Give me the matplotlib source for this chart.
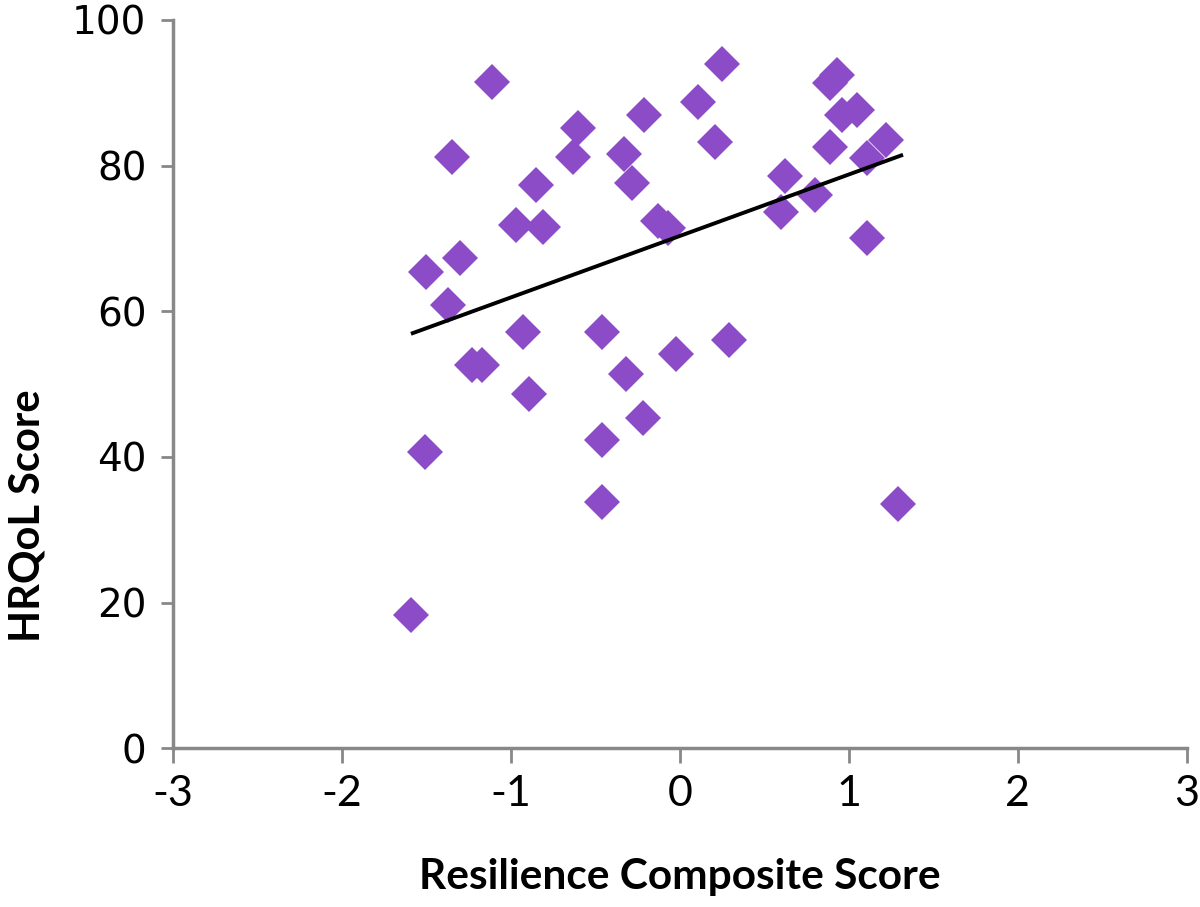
import matplotlib
matplotlib.use("Agg")
import matplotlib.pyplot as plt
import numpy as np

# Data
resilience = [-1.59, -1.51, -1.50, -1.37, -1.35, -1.30, -1.23, -1.17, -1.11,
              -0.97, -0.93, -0.89, -0.85, -0.81, -0.63, -0.60, -0.46, -0.46,
              -0.46, -0.33, -0.32, -0.28, -0.22, -0.21, -0.13, -0.07, -0.02,
              0.11, 0.21, 0.25, 0.29, 0.60, 0.62, 0.80, 0.89, 0.89, 0.93,
              0.96, 1.05, 1.11, 1.11, 1.22, 1.29]
hrqol = [18.3, 40.7, 65.4, 60.8, 81.2, 67.3, 52.6, 52.6, 91.5,
         71.8, 57.2, 48.7, 77.3, 71.6, 81.2, 85.2, 57.2, 42.3,
         33.8, 81.6, 51.4, 77.6, 45.3, 87.0, 72.4, 71.5, 54.2,
         88.8, 83.3, 94.0, 56.0, 73.6, 78.6, 76.0, 82.5, 91.3, 92.4,
         87.0, 87.6, 81.0, 70.1, 83.5, 33.6]

trend_x = [-1.58, 1.31]
trend_y = [57.0, 81.4]

x_ticks = [-3, -2, -1, 0, 1, 2, 3]
y_ticks = [0, 20, 40, 60, 80, 100]

fig = plt.figure(figsize=(12, 9.07), dpi=100)
ax = fig.add_axes([0.144, 0.175, 0.845, 0.803])

ax.plot(resilience, hrqol, linestyle='none', marker='D', markersize=18,
        color='#8C4CC8', markeredgewidth=0, zorder=3)
ax.plot(trend_x, trend_y, color='black', linewidth=2.8, zorder=4)

ax.set_xlim(-3, 3)
ax.set_ylim(0, 100)
ax.set_xticks(x_ticks)
ax.set_yticks(y_ticks)
ax.set_xticklabels([str(v) for v in x_ticks],
                   fontfamily=['Lato', 'DejaVu Sans'], fontsize=31)
ax.set_yticklabels([str(v) for v in y_ticks],
                   fontfamily=['DejaVu Sans'], fontsize=28)

for s in ['top', 'right']:
    ax.spines[s].set_visible(False)
for s in ['left', 'bottom']:
    ax.spines[s].set_color('#888888')
    ax.spines[s].set_linewidth(2.5)

ax.tick_params(axis='x', direction='out', length=11, width=2, color='#888888', pad=8)
ax.tick_params(axis='y', direction='out', length=9, width=2, color='#888888', pad=10)

ax.set_xlabel('Resilience Composite Score', fontsize=30.5, fontweight='bold',
              fontfamily=['Lato', 'DejaVu Sans'])
ax.xaxis.set_label_coords(0.5, -0.177, transform=ax.transAxes)
ax.xaxis.label.set_verticalalignment('center')
ax.set_ylabel('HRQoL Score', fontsize=30, fontweight='bold',
              fontfamily=['Lato', 'DejaVu Sans'])
ax.yaxis.set_label_coords(-0.143, 0.32, transform=ax.transAxes)
ax.yaxis.label.set_verticalalignment('center')

fig.savefig('out.png', dpi=100, facecolor='white')
